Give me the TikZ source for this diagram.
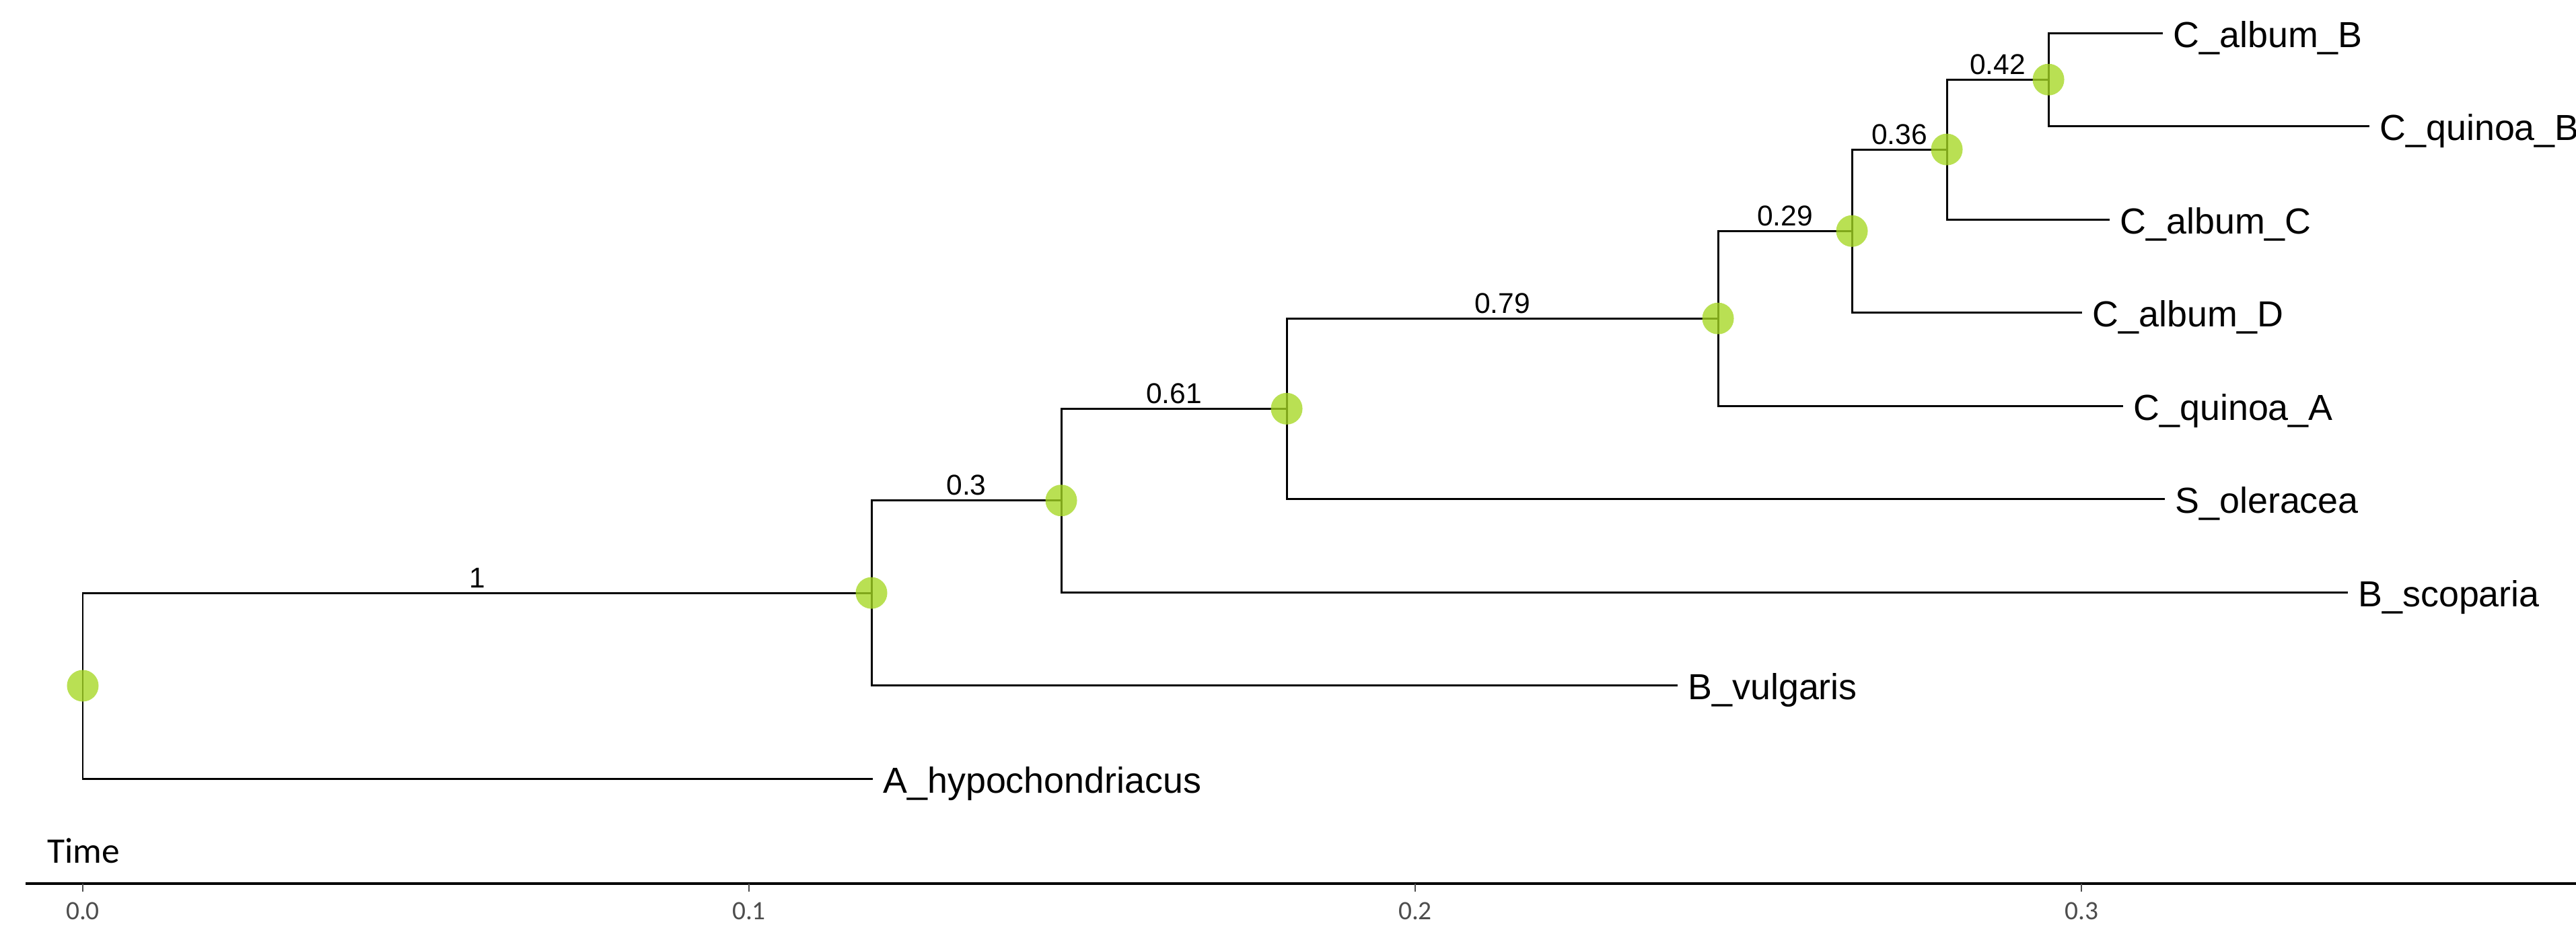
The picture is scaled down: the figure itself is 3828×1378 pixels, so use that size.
\documentclass[tikz,border=0pt]{standalone}
\usepackage{fontspec}
\setmainfont{Liberation Sans}
\newfontfamily\carlito{Carlito}
\definecolor{nodegreen}{RGB}{165,215,35}
\definecolor{ticktext}{RGB}{77,77,77}
\begin{document}
\begin{tikzpicture}[x=0.01cm, y=-0.01cm,
  branch/.style={line width=0.85pt, black},
  tiplab/.style={anchor=base west, inner sep=0pt, xshift=0.14cm, yshift=-0.21cm,
    font=\fontsize{15.3pt}{18pt}\selectfont},
  blab/.style={anchor=south, inner sep=0pt, yshift=0.06cm,
    font=\fontsize{12.1pt}{14pt}\selectfont},
  dot/.style={circle, inner sep=0pt, minimum size=0.47cm, draw=none,
    fill=nodegreen, fill opacity=0.78},
  axisline/.style={line width=1.1pt, black},
  tickmark/.style={line width=0.6pt, ticktext},
  ticklab/.style={anchor=north, inner sep=0pt, yshift=-0.15cm, text=ticktext,
    font=\carlito\fontsize{11.2pt}{13pt}\selectfont}]
\useasboundingbox (0,0) rectangle (3828,1378);

% internal nodes (x = age, y = mean of children)
\coordinate (root) at (123,1019);
\coordinate (n1) at (1295,881.1);
\coordinate (n2) at (1577,743.7);
\coordinate (n3) at (1912,607.3);
\coordinate (n4) at (2553,473.2);
\coordinate (n5) at (2752,343.3);
\coordinate (n6) at (2893,222.1);
\coordinate (n7) at (3044,118.25);

% tips
\coordinate (tCaB) at (3214,49);
\coordinate (tCqB) at (3521,187.5);
\coordinate (tCaC) at (3135,326);
\coordinate (tCaD) at (3094,464.5);
\coordinate (tCqA) at (3155,603);
\coordinate (tSo) at (3217,741.5);
\coordinate (tBs) at (3489,880);
\coordinate (tBv) at (2493,1018.5);
\coordinate (tAh) at (1297,1157);

% branches with support values
\draw[branch] (root) |- node[blab, pos=0.75] (s1) {1} (n1);
\draw[branch] (root) |- (tAh) node[tiplab] (lAh) {A\_hypochondriacus};
\draw[branch] (n1) |- node[blab, pos=0.75] (s2) {0.3} (n2);
\draw[branch] (n1) |- (tBv) node[tiplab] (lBv) {B\_vulgaris};
\draw[branch] (n2) |- node[blab, pos=0.75] (s3) {0.61} (n3);
\draw[branch] (n2) |- (tBs) node[tiplab] (lBs) {B\_scoparia};
\draw[branch] (n3) |- node[blab, pos=0.75] (s4) {0.79} (n4);
\draw[branch] (n3) |- (tSo) node[tiplab] (lSo) {S\_oleracea};
\draw[branch] (n4) |- node[blab, pos=0.75] (s5) {0.29} (n5);
\draw[branch] (n4) |- (tCqA) node[tiplab] (lCqA) {C\_quinoa\_A};
\draw[branch] (n5) |- node[blab, pos=0.75] (s6) {0.36} (n6);
\draw[branch] (n5) |- (tCaD) node[tiplab] (lCaD) {C\_album\_D};
\draw[branch] (n6) |- node[blab, pos=0.75] (s7) {0.42} (n7);
\draw[branch] (n6) |- (tCaC) node[tiplab] (lCaC) {C\_album\_C};
\draw[branch] (n7) |- (tCaB) node[tiplab] (lCaB) {C\_album\_B};
\draw[branch] (n7) |- (tCqB) node[tiplab] (lCqB) {C\_quinoa\_B};

% node markers
\foreach \n in {root,n1,n2,n3,n4,n5,n6,n7}
  \node[dot] (d\n) at (\n) {};

% time axis
\coordinate (axL) at (38,1313);
\coordinate (axR) at (3828,1313);
\draw[axisline] (axL) -- (axR);
\node[anchor=base west, inner sep=0pt, font=\carlito\fontsize{15.2pt}{18pt}\selectfont]
  (timelab) at (70,1282) {Time};
\coordinate (tk0) at (123,1313);
\coordinate (tk1) at (1113,1313);
\coordinate (tk2) at (2103,1313);
\coordinate (tk3) at (3093,1313);
\draw[tickmark] (tk0) -- ++(0,12) node[ticklab] (tl0) {0.0};
\draw[tickmark] (tk1) -- ++(0,12) node[ticklab] (tl1) {0.1};
\draw[tickmark] (tk2) -- ++(0,12) node[ticklab] (tl2) {0.2};
\draw[tickmark] (tk3) -- ++(0,12) node[ticklab] (tl3) {0.3};
\end{tikzpicture}
\end{document}
